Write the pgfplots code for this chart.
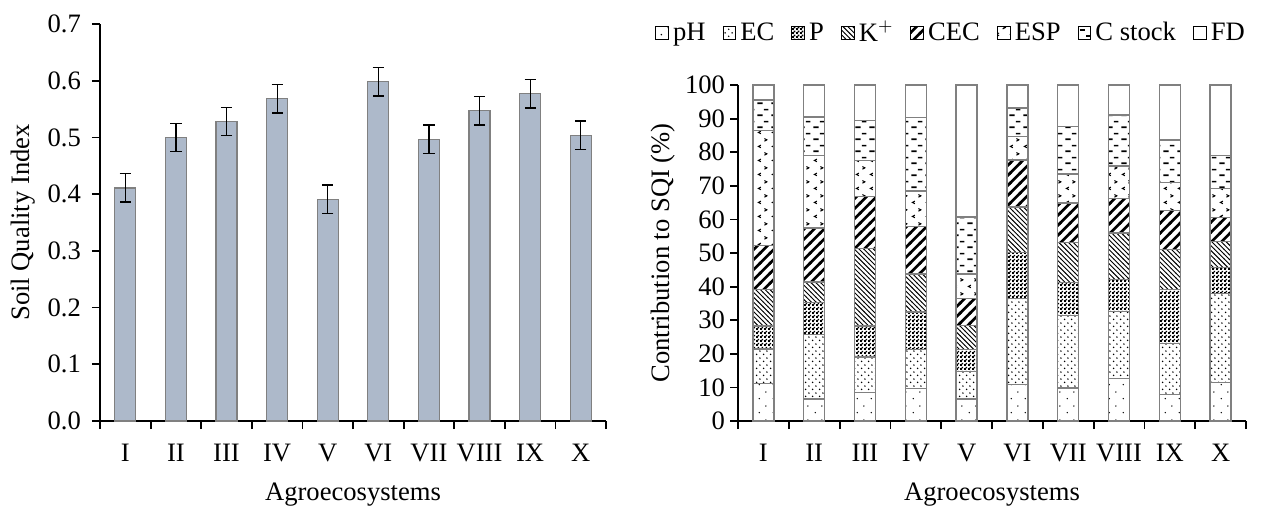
\documentclass[border=0pt]{standalone}
\usepackage{fontspec}
\setmainfont{Liberation Serif}
\usepackage{pgfplots}
\pgfplotsset{compat=1.18}
\usetikzlibrary{patterns}

\definecolor{barblue}{HTML}{ADB9CA}
\definecolor{edgegray}{HTML}{808080}

% fill patterns of the stacked bars
\pgfdeclarepatternformonly{phdots}{\pgfpointorigin}{\pgfpoint{7pt}{7pt}}{\pgfpoint{7pt}{7pt}}{%
  \pgfpathcircle{\pgfpoint{1.75pt}{1.75pt}}{0.4pt}%
  \pgfpathcircle{\pgfpoint{5.25pt}{5.25pt}}{0.4pt}%
  \pgfusepath{fill}}
\pgfdeclarepatternformonly{ecdots}{\pgfpointorigin}{\pgfpoint{3.4pt}{3.4pt}}{\pgfpoint{3.4pt}{3.4pt}}{%
  \pgfpathcircle{\pgfpoint{0.85pt}{0.85pt}}{0.42pt}%
  \pgfpathcircle{\pgfpoint{2.55pt}{2.55pt}}{0.42pt}%
  \pgfusepath{fill}}
\pgfdeclarepatternformonly{pcheck}{\pgfpointorigin}{\pgfpoint{2pt}{2pt}}{\pgfpoint{2pt}{2pt}}{%
  \pgfpathrectangle{\pgfpointorigin}{\pgfpoint{1.15pt}{1.15pt}}%
  \pgfpathrectangle{\pgfpoint{1pt}{1pt}}{\pgfpoint{1pt}{1pt}}%
  \pgfusepath{fill}}
\pgfdeclarepatternformonly{klines}{\pgfpoint{-1pt}{-1pt}}{\pgfpoint{3.4pt}{3.4pt}}{\pgfpoint{2.4pt}{2.4pt}}{%
  \pgfsetlinewidth{0.45pt}%
  \pgfpathmoveto{\pgfpoint{-0.1pt}{2.5pt}}%
  \pgfpathlineto{\pgfpoint{2.5pt}{-0.1pt}}%
  \pgfusepath{stroke}}
\pgfdeclarepatternformonly{ceclines}{\pgfpoint{-1pt}{-1pt}}{\pgfpoint{6pt}{6pt}}{\pgfpoint{5pt}{5pt}}{%
  \pgfsetlinewidth{1.4pt}%
  \pgfpathmoveto{\pgfpoint{-0.5pt}{-0.5pt}}%
  \pgfpathlineto{\pgfpoint{5.5pt}{5.5pt}}%
  \pgfusepath{stroke}}
\pgfdeclarepatternformonly{espmarks}{\pgfpointorigin}{\pgfpoint{7pt}{7pt}}{\pgfpoint{7pt}{7pt}}{%
  \pgfsetlinewidth{0.55pt}%
  \pgfpathmoveto{\pgfpoint{2.6pt}{2.6pt}}%
  \pgfpathlineto{\pgfpoint{1.3pt}{1.9pt}}%
  \pgfpathlineto{\pgfpoint{2.6pt}{1.2pt}}%
  \pgfpathmoveto{\pgfpoint{4.5pt}{6.1pt}}%
  \pgfpathlineto{\pgfpoint{5.8pt}{5.4pt}}%
  \pgfpathlineto{\pgfpoint{4.5pt}{4.7pt}}%
  \pgfusepath{stroke}}
\pgfdeclarepatternformonly{cdash}{\pgfpointorigin}{\pgfpoint{7pt}{6pt}}{\pgfpoint{7pt}{6pt}}{%
  \pgfsetlinewidth{0.9pt}%
  \pgfpathmoveto{\pgfpoint{0.8pt}{1.5pt}}%
  \pgfpathlineto{\pgfpoint{3.6pt}{1.5pt}}%
  \pgfpathmoveto{\pgfpoint{4.2pt}{4.5pt}}%
  \pgfpathlineto{\pgfpoint{6.6pt}{4.5pt}}%
  \pgfusepath{stroke}}

\pgfplotsset{
  agro/.style={
    scale only axis,
    axis lines*=left,
    axis line style={black, line width=0.9pt},
    tick style={black, line width=0.9pt},
    tick align=outside,
    major tick length=4pt,
    minor tick length=4pt,
    xmin=-0.5, xmax=9.5,
    xtick={0,...,9},
    xticklabels={I,II,III,IV,V,VI,VII,VIII,IX,X},
    minor xtick={-0.5,0.5,...,9.5},
    major x tick style={draw=none},
    ymin=0,
    font=\fontsize{13.3}{16}\selectfont,
    /pgf/number format/assume math mode=true,
    xticklabel style={yshift=-4pt},
    xlabel={Agroecosystems},
    clip=false,
  }
}

\begin{document}
\begin{tikzpicture}
% left: soil quality index
\begin{axis}[agro,
  width=253pt, height=198.5pt,
  ymax=0.7, ytick={0,0.1,...,0.7},
  yticklabel style={/pgf/number format/fixed, /pgf/number format/fixed zerofill,
    /pgf/number format/precision=1, xshift=-2pt},
  ylabel={Soil Quality Index},
  ylabel style={at={(axis description cs:-0.152,0.5)}, anchor=center},
  xlabel style={at={(axis description cs:0.5,-0.186)}, anchor=center},
]
\addplot[ybar, bar width=10.5pt, fill=barblue, draw=edgegray, line width=0.6pt,
  error bars/.cd, y dir=both, y explicit,
  error bar style={black, line width=0.6pt},
  error mark options={black, line width=0.6pt, mark size=2.8pt, rotate=90}]
  coordinates {
  (0,0.411) +- (0,0.025)
  (1,0.500) +- (0,0.025)
  (2,0.528) +- (0,0.025)
  (3,0.568) +- (0,0.025)
  (4,0.391) +- (0,0.025)
  (5,0.598) +- (0,0.025)
  (6,0.497) +- (0,0.025)
  (7,0.547) +- (0,0.025)
  (8,0.577) +- (0,0.025)
  (9,0.504) +- (0,0.025)
};
\end{axis}

% right: contribution of each indicator
\begin{axis}[agro, at={(319pt,0pt)},
  width=254pt, height=168pt,
  ymax=100, ytick={0,10,...,100},
  yticklabel style={xshift=1pt},
  ylabel={Contribution to SQI (\%)},
  ylabel style={at={(axis description cs:-0.148,0.5)}, anchor=center},
  xlabel style={at={(axis description cs:0.5,-0.220)}, anchor=center},
  ybar stacked, bar width=10.5pt,
  legend columns=8,
  legend style={draw=none, fill=none, at={(axis description cs:1.018,1.155)},
    anchor=east, font=\fontsize{13.3}{16}\selectfont,
    /tikz/every even column/.append style={column sep=6.5pt}},
  legend image code/.code={\draw[#1, draw=black, line width=0.5pt] (0pt,-3.2pt) rectangle (6.4pt,3.2pt);},
]
\addplot[draw=edgegray, line width=0.7pt, pattern=phdots, pattern color=black] coordinates {
  (0,11.2) (1,6.6) (2,8.4) (3,9.7) (4,6.6) (5,10.8) (6,9.8) (7,12.7) (8,7.9) (9,11.5)};
\addplot[draw=edgegray, line width=0.7pt, pattern=ecdots, pattern color=black] coordinates {
  (0,10.2) (1,19.1) (2,10.7) (3,11.5) (4,8.1) (5,25.6) (6,21.6) (7,19.9) (8,15.1) (9,26.5)};
\addplot[draw=edgegray, line width=0.7pt, pattern=pcheck, pattern color=black] coordinates {
  (0,6.9) (1,9.6) (2,9.2) (3,11.2) (4,6.5) (5,13.8) (6,9.9) (7,9.6) (8,16.2) (9,7.7)};
\addplot[draw=edgegray, line width=0.7pt, pattern=klines, pattern color=black] coordinates {
  (0,10.9) (1,6.1) (2,23.0) (3,11.3) (4,7.3) (5,13.5) (6,11.9) (7,13.8) (8,11.8) (9,7.7)};
\addplot[draw=edgegray, line width=0.7pt, pattern=ceclines, pattern color=black] coordinates {
  (0,13.1) (1,16.0) (2,15.5) (3,14.2) (4,7.9) (5,14.0) (6,11.7) (7,10.2) (8,11.7) (9,7.1)};
\addplot[draw=edgegray, line width=0.7pt, pattern=espmarks, pattern color=black] coordinates {
  (0,34.1) (1,21.6) (2,10.7) (3,10.5) (4,7.3) (5,6.9) (6,8.6) (7,9.7) (8,8.3) (9,8.7)};
\addplot[draw=edgegray, line width=0.7pt, pattern=cdash, pattern color=black] coordinates {
  (0,9.1) (1,11.5) (2,12.0) (3,21.9) (4,17.0) (5,8.5) (6,14.1) (7,15.2) (8,12.6) (9,9.9)};
\addplot[draw=edgegray, line width=0.7pt, fill=white] coordinates {
  (0,4.5) (1,9.5) (2,10.5) (3,9.7) (4,39.3) (5,6.9) (6,12.4) (7,8.9) (8,16.4) (9,20.9)};
\legend{pH, EC, P, K$^{+}$, CEC, ESP, C stock, FD}
\end{axis}
\path (-50pt,-42.5pt) rectangle (580.5pt,210.5pt);
\end{tikzpicture}
\end{document}
